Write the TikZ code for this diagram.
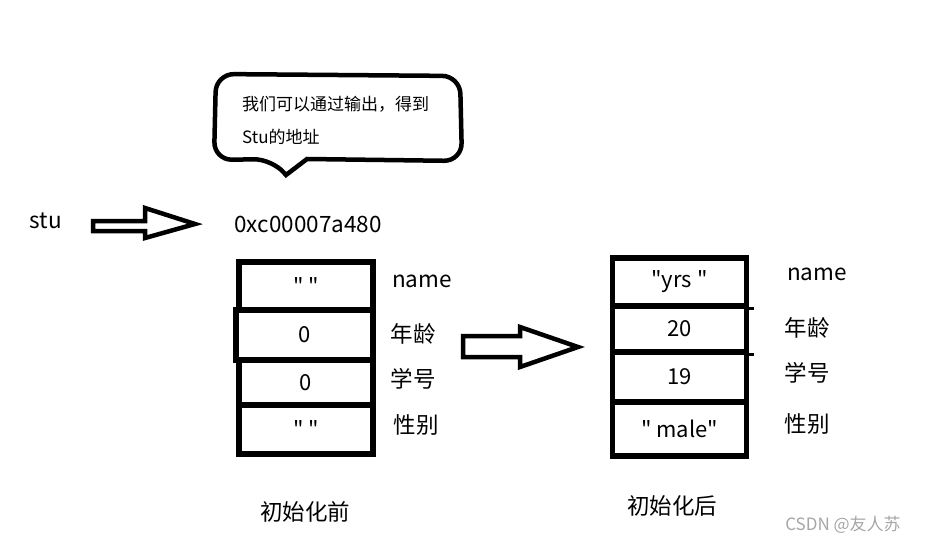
\documentclass[tikz,border=0pt]{standalone}
\usepackage{fontspec}
\newfontfamily\cjk{Noto Sans CJK SC}
\begin{document}
\begin{tikzpicture}[x=1pt,y=-1pt,
  every node/.style={font=\cjk},
  heavy/.style={line width=4.5pt, line join=miter},
  cell/.style={draw, line width=5.5pt, minimum width=134pt, inner sep=0pt, font=\cjk\fontsize{22}{24}\selectfont, anchor=north},
  lbl/.style={font=\cjk\fontsize{22.5}{25}\selectfont, inner sep=0pt},
  note/.style={font=\cjk\fontsize{17}{20}\selectfont, inner sep=0pt, anchor=west}]
\useasboundingbox (0,0) rectangle (926,543);
% callout
\draw[heavy] (286,175) -- (307,159) [rounded corners=18pt] -- (462,161) -- (460,76) -- (216,74) -- (214,160) -- (272,159) [sharp corners] -- cycle;
\node[note] (n1) at (242,104) {我们可以通过输出，得到};
\node[note] (n2) at (242,137) {Stu的地址};
% stu arrow
\node[lbl] (stu) at (46,221) {stu};
\draw[heavy] (93,221) -- (145,221) -- (145,208) -- (195,224) -- (145,238) -- (145,231) -- (93,231) -- cycle;
\node[lbl] (addr) at (308,224) {0xc00007a480};
% left cells
\node[cell, minimum height=48pt] (l1) at (306,259) {" "};
\node[cell, minimum height=50pt, minimum width=137pt] (l2) at (304.5,307) {0};
\node[cell, minimum height=45pt] (l3) at (306,357) {0};
\node[cell, minimum height=49pt] (l4) at (306,402) {" "};
\node[lbl] (ln1) at (422,281) {name};
\node[lbl] (ln2) at (413,334) {年龄};
\node[lbl] (ln3) at (413,379) {学号};
\node[lbl] (ln4) at (416,425) {性别};
% middle arrow
\draw[heavy] (463,336) -- (520,336) -- (520,327) -- (578,347) -- (520,367) -- (520,357) -- (463,357) -- cycle;
% right cells
\node[cell, minimum height=48pt] (r1) at (679.5,255) {"yrs "};
\node[cell, minimum height=46pt] (r2) at (679.5,303) {20};
\node[cell, minimum height=50pt] (r3) at (679.5,349) {19};
\node[cell, minimum height=54pt] (r4) at (679.5,399) {" male"};
\draw[line width=3pt] (r1.south east) -- ++(5,0);
\draw[line width=3pt] (r2.south east) -- ++(5,0);
\node[lbl] (rn1) at (817,274) {name};
\node[lbl] (rn2) at (807,328) {年龄};
\node[lbl] (rn3) at (807,373) {学号};
\node[lbl] (rn4) at (807,424) {性别};
% captions
\node[lbl] (c1) at (305,512) {初始化前};
\node[lbl] (c2) at (672,506) {初始化后};
\node[font=\cjk\fontsize{17}{18}\selectfont, text=black!35, inner sep=0pt] (wm) at (843,525) {CSDN @友人苏};
\end{tikzpicture}
\end{document}
